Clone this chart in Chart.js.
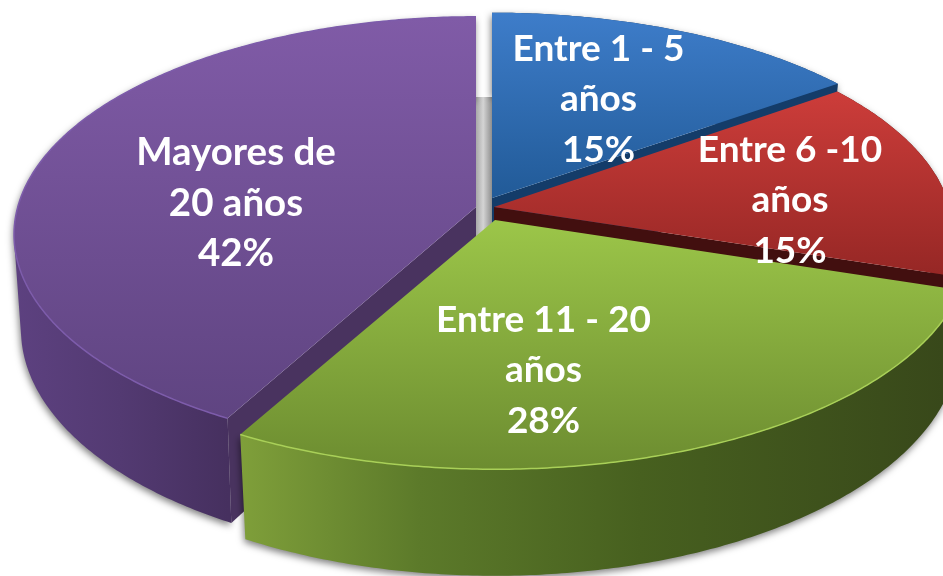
<!DOCTYPE html>
<html>
<head>
<meta charset="utf-8">
<style>html,body{margin:0;padding:0;background:#fff}canvas{display:block}</style>
<script src="https://cdn.jsdelivr.net/npm/chart.js@4/dist/chart.umd.min.js"></script>
</head>
<body>
<canvas id="c" width="943" height="576"></canvas>
<script>
const categories = ['Entre 1 - 5 años', 'Entre 6 -10 años', 'Entre 11 - 20 años', 'Mayores de 20 años'];
const values = [15, 15, 28, 42];
const labelLines = [['Entre 1 - 5', 'años'], ['Entre 6 -10', 'años'], ['Entre 11 - 20', 'años'], ['Mayores de', '20 años']];
const colors = ['#2f6db5', '#b5322f', '#86ab3f', '#6b4c90'];

// Look of the 3D projection (perspective, depth, per-slice placement)
const persp = { sx: 470, sy: 217.6, p: 0.127, depth: 93 };
const looks = [
  { vx: 492, vy: 198, kx: 0.977, ky: 0.96, fx: 0.98, top: [[12, '#3e7dca'], [200, '#215a97']], cut: '#143c69', wall: [[0, '#143c69'], [943, '#143c69']], rim: null, tx: 598.5, ty: 49, font: 37 },
  { vx: 494, vy: 207, kx: 0.97, ky: 0.97, fx: 0.98, top: [[90, '#cd3d3a'], [275, '#962725']], cut: '#420f0f', wall: [[0, '#5a1513'], [943, '#5a1513']], rim: null, tx: 790, ty: 150, font: 37 },
  { vx: 495, vy: 220, kx: 1, ky: 1, fx: 0.98, top: [[220, '#9cc649'], [470, '#6c8c30']], cut: '#7d9e38', wall: [[241, '#7f9f3a'], [420, '#5c7a2a'], [640, '#47601f'], [943, '#38481a']], rim: '#a9d058', tx: 543.5, ty: 320, font: 37 },
  { vx: 476, vy: 207, kx: 0.975, ky: 0.985, fx: 0.985, top: [[17, '#805ba7'], [420, '#5f4481']], cut: '#49335f', wall: [[13, '#5d4180'], [120, '#533a72'], [228, '#46305f']], rim: '#7d5cab', tx: 236, ty: 153, font: 38.5 }
];
const lineGap = 50.5;

function grad(ctx, stops, horizontal) {
  const a = stops[0][0], b = stops[stops.length - 1][0];
  const g = horizontal ? ctx.createLinearGradient(a, 0, b, 0) : ctx.createLinearGradient(0, a, 0, b);
  stops.forEach(s => g.addColorStop((s[0] - a) / (b - a), s[1]));
  return g;
}
function project(look, theta, bottom) {
  const x = Math.sin(theta), y = -Math.cos(theta);
  const w = 1 - persp.p * y;
  const f = bottom ? look.fx : 1;
  return [
    look.vx + look.kx * f * persp.sx * x / w,
    look.vy + look.ky * persp.sy * y / w + (bottom ? persp.depth / w : 0)
  ];
}
function ring(look, a, b, bottom) {
  const pts = [], n = Math.max(2, Math.ceil(Math.abs(b - a) / 0.01));
  for (let i = 0; i <= n; i++) pts.push(project(look, a + (b - a) * i / n, bottom));
  return pts;
}
function path(ctx, pts) {
  ctx.beginPath();
  pts.forEach((p, i) => i ? ctx.lineTo(p[0], p[1]) : ctx.moveTo(p[0], p[1]));
  ctx.closePath();
}

const pie3d = {
  id: 'pie3d',
  beforeDatasetsDraw(chart) {
    const ctx = chart.ctx;
    const arcs = chart.getDatasetMeta(0).data;
    const spans = arcs.map(a => [a.startAngle + Math.PI / 2, a.endAngle + Math.PI / 2]);

    // thin grey face in the gap behind the slices
    ctx.save();
    const gs = ctx.createLinearGradient(476, 0, 492, 0);
    gs.addColorStop(0, '#a8a8a8'); gs.addColorStop(0.45, '#d4d4d4'); gs.addColorStop(1, '#8f8f8f');
    ctx.fillStyle = gs;
    ctx.fillRect(476, 97, 17, 142);
    ctx.restore();

    // back to front: purple, blue, red, green
    [3, 0, 1, 2].forEach(i => {
      const look = looks[i], [a, b] = spans[i];
      const topEdge = ring(look, a, b, false);
      const botEdge = ring(look, a, b, true);
      const vertex = [look.vx, look.vy];
      const vertexBot = [look.vx, look.vy + persp.depth];

      // outer wall as a union of small quads, so the silhouette stays continuous
      ctx.save();
      ctx.shadowColor = 'rgba(0,0,0,0.5)';
      ctx.shadowBlur = 7;
      ctx.shadowOffsetX = -1;
      ctx.shadowOffsetY = 3;
      ctx.fillStyle = grad(ctx, look.wall, true);
      ctx.beginPath();
      for (let k = 0; k < topEdge.length - 1; k++) {
        const q = [topEdge[k], topEdge[k + 1], botEdge[k + 1], botEdge[k]];
        const area = (q[1][0] - q[0][0]) * (q[2][1] - q[0][1]) - (q[2][0] - q[0][0]) * (q[1][1] - q[0][1]);
        if (area < 0) q.reverse();
        q.forEach((p, m) => m ? ctx.lineTo(p[0], p[1]) : ctx.moveTo(p[0], p[1]));
        ctx.closePath();
      }
      ctx.fill();
      ctx.restore();

      // cut face
      ctx.fillStyle = look.cut;
      if (i === 3) {
        path(ctx, [vertex, topEdge[0], botEdge[0], vertexBot]);
      } else {
        path(ctx, [vertex, topEdge[topEdge.length - 1], botEdge[botEdge.length - 1], vertexBot]);
      }
      if (i !== 2) ctx.fill();

      // top face
      ctx.fillStyle = grad(ctx, look.top, false);
      path(ctx, [vertex].concat(topEdge));
      ctx.fill();

      // highlight along the front rim
      if (look.rim) {
        ctx.strokeStyle = look.rim;
        ctx.lineWidth = 1.5;
        ctx.beginPath();
        topEdge.forEach((p, k) => k ? ctx.lineTo(p[0], p[1]) : ctx.moveTo(p[0], p[1]));
        ctx.stroke();
      }
    });

    // labels
    ctx.save();
    ctx.fillStyle = '#ffffff';
    ctx.textAlign = 'center';
    ctx.textBaseline = 'middle';
    values.forEach((v, i) => {
      ctx.font = 'bold ' + looks[i].font + 'px Lato, "Open Sans", sans-serif';
      const lines = labelLines[i].concat([v + '%']);
      lines.forEach((t, k) => ctx.fillText(t, looks[i].tx, looks[i].ty + k * lineGap));
    });
    ctx.restore();
    return false;
  }
};

new Chart(document.getElementById('c'), {
  type: 'pie',
  data: { labels: categories, datasets: [{ data: values, backgroundColor: colors }] },
  options: {
    responsive: false,
    animation: false,
    rotation: 0,
    plugins: { legend: { display: false }, tooltip: { enabled: false } }
  },
  plugins: [pie3d]
});
</script>
</body>
</html>
